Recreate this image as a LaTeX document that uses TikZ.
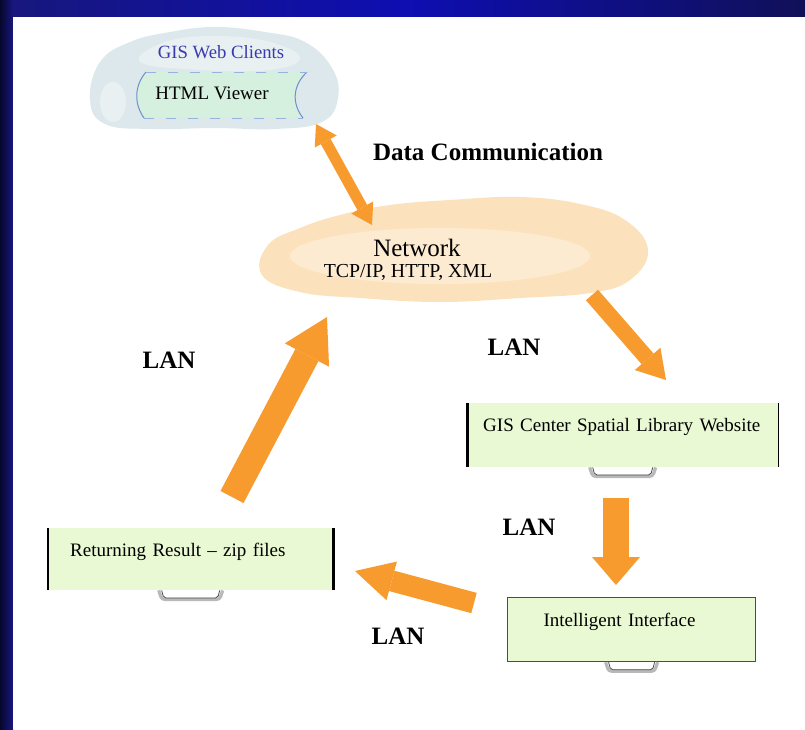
\documentclass[tikz,border=0pt]{standalone}
\usepackage{fontspec}
\setmainfont{Liberation Serif}
\usetikzlibrary{positioning, arrows.meta}
\definecolor{gwNavy}{HTML}{17177E}
\definecolor{gwNavyD}{HTML}{07072E}
\definecolor{gwOrange}{HTML}{F79B2E}
\definecolor{gwGreen}{HTML}{E9F9D3}
\definecolor{gwMint}{HTML}{D5F0DE}
\definecolor{gwSky}{HTML}{DCE8EB}
\definecolor{gwSkyL}{HTML}{E8F0F2}
\definecolor{gwPeach}{HTML}{FBE2BC}
\definecolor{gwPeachL}{HTML}{FCEBD1}
\definecolor{gwBlue}{HTML}{3A3AAE}
\definecolor{gwEdge}{HTML}{6F8FCF}

\begin{document}
\begin{tikzpicture}[
    x=1pt, y=-1pt,
    lan/.style   ={font=\fontsize{25}{30}\selectfont\bfseries, inner sep=0pt},
    txt/.style   ={font=\fontsize{19}{23}\selectfont, inner sep=0pt},
    panel/.style ={fill=gwGreen, inner ysep=0pt, align=left, text height=28.5pt, font=\fontsize{19}{23}\selectfont},
    fat/.style   ={draw=gwOrange, line width=#1},
    handle/.style={draw=gray!55, line width=3.2pt, rounded corners=3pt},
]
\useasboundingbox (0,0) rectangle (805,729);

% ---- Slide backdrop ----
\shade[left color=gwNavyD, right color=gwNavy] (0,0) rectangle (13,729);
\shade[left color=gwNavy, right color=gwNavy!70!black, middle color=gwNavy!60!blue] (13,0) rectangle (805,17);
\fill[white] (13,17) rectangle (805,729);

% ---- Web client cloud ----
\fill[gwSky] plot[smooth cycle, tension=0.7] coordinates {(90,100) (100,62) (130,42) (170,32) (215,27) (265,32) (305,42) (332,68) (338,98) (322,122) (275,129) (215,128) (150,129) (105,124)};
\fill[gwSkyL] plot[smooth cycle, tension=0.7] coordinates {(140,62) (165,42) (215,36) (270,42) (300,58) (270,70) (200,70)};
\fill[gwSkyL] (113,102) ellipse [x radius=13pt, y radius=20pt];
\fill[gwMint] (146,72) .. controls (134,86) and (134,104) .. (144,118) -- (303,118) .. controls (292,104) and (292,86) .. (307,72) -- cycle;
\draw[gwEdge, line width=1pt] (146,72) .. controls (134,86) and (134,104) .. (144,118);
\draw[gwEdge, line width=1pt] (307,72) .. controls (292,86) and (292,104) .. (303,118);
\draw[gwEdge!70, dash pattern=on 10pt off 12pt, line width=0.8pt] (146,72) -- (307,72) (144,118) -- (303,118);
\node[txt, font=\fontsize{18.7}{22}\selectfont, text=gwBlue] (clients) at (221,52) {GIS Web Clients};
\node[txt] (html) at (212,93) {HTML Viewer};

% ---- Network cloud ----
\fill[gwPeach] plot[smooth cycle, tension=0.7] coordinates {(262,275) (268,245) (300,228) (340,215) (390,205) (450,200) (520,197) (580,204) (625,220) (648,250) (630,280) (590,293) (520,298) (440,302) (360,298) (300,292)};
\fill[gwPeachL] (440,256) ellipse [x radius=150pt, y radius=28pt];
\node[inner sep=0pt, font=\fontsize{25}{30}\selectfont] (net) at (417,248) {Network};
\node[txt, font=\fontsize{19.8}{24}\selectfont] (proto) at (408,272) {TCP/IP, HTTP, XML};

% ---- Server side boxes ----
\node[panel, anchor=north west, inner xsep=16pt, text width=279pt, text depth=35.5pt] (site) at (467,403) {GIS Center Spatial Library Website};
\node[panel, anchor=north west, inner xsep=22pt, text width=241pt, text depth=33.5pt] (result) at (48,528) {Returning Result -- zip files};
\node[panel, anchor=north west, inner xsep=36pt, text width=176pt, text depth=35.5pt, draw=black!70, line width=1.2pt] (agent) at (507,597) {Intelligent Interface};

\draw[line width=3pt] (site.north west) -- (site.south west);
\draw[line width=1.6pt] (site.north east) -- (site.south east);
\draw[line width=1.6pt] (result.north west) -- (result.south west);
\draw[line width=3pt] (result.north east) -- (result.south east);

\foreach \b/\h in {site/33, result/32, agent/26} {
  \draw[handle] ([xshift=-\h pt]\b.south) -- ++(3,9) -- ++({2*\h-6},0) -- ++(3,-9);
  \draw[black!70, line width=0.8pt, rounded corners=2pt] ([xshift={-\h pt+3pt}]\b.south) -- ++(2,7.5) -- ++({2*\h-10},0) -- ++(2,-7.5);
}

% ---- Block arrows ----
\coordinate (dcTop) at (316,124);
\coordinate (dcBot) at (372,225);
\coordinate (upTail) at (232,497);
\coordinate (upTip) at (327,317);
\coordinate (drTail) at (592,295);
\coordinate (drTip) at (666,380);
\coordinate (dnTail) at (616,498);
\coordinate (dnTip) at (616,585);
\coordinate (lfTail) at (474,603);
\coordinate (lfTip) at (355,571);

\draw[fat=11pt, {Triangle[length=20pt, width=25pt, line width=0pt]}-{Triangle[length=20pt, width=25pt, line width=0pt]}] (dcTop) -- (dcBot);
\draw[fat=26pt, -{Triangle[length=43pt, width=50pt, line width=0pt]}] (upTail) -- (upTip);
\draw[fat=16pt, -{Triangle[length=28pt, width=34pt, line width=0pt]}] (drTail) -- (drTip);
\draw[fat=26pt, -{Triangle[length=28pt, width=48pt, line width=0pt]}] (dnTail) -- (dnTip);
\draw[fat=21pt, -{Triangle[length=38pt, width=40pt, line width=0pt]}] (lfTail) -- (lfTip);

% ---- Labels ----
\node[lan] (dcom) at (488,152) {Data Communication};
\node[lan] (lanUp) at (169,360) {LAN};
\node[lan] (lanDr) at (514,347) {LAN};
\node[lan] (lanDn) at (529,527) {LAN};
\node[lan] (lanLf) at (398,636) {LAN};

\end{tikzpicture}
\end{document}
